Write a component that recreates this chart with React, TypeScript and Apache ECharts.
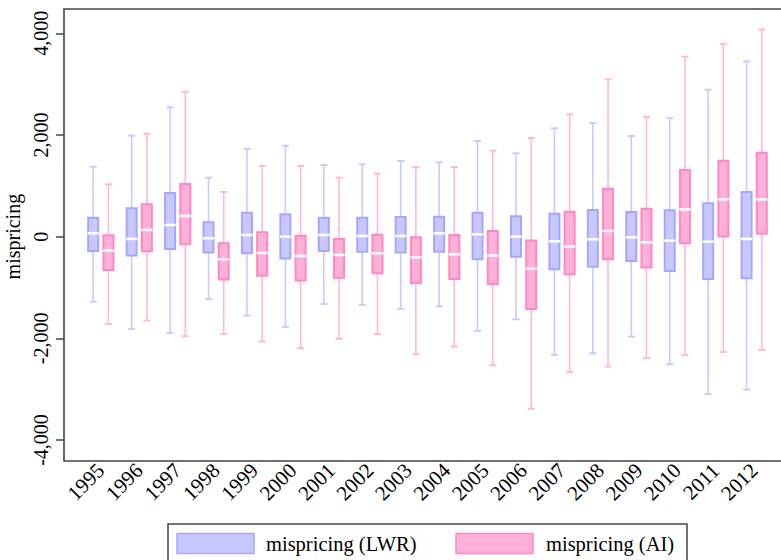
import React, { useEffect, useRef } from "react";
import * as echarts from "echarts";

const years = ["1995","1996","1997","1998","1999","2000","2001","2002","2003","2004","2005","2006","2007","2008","2009","2010","2011","2012"];

// [min, q1, median, q3, max]
const lwr: number[][] = [
  [-1278, -281, 67, 374, 1376],
  [-1815, -373, -45, 558, 1986],
  [-1893, -242, 230, 859, 2544],
  [-1225, -314, -31, 282, 1160],
  [-1553, -327, 33, 472, 1724],
  [-1775, -432, 0, 440, 1789],
  [-1323, -281, 33, 374, 1410],
  [-1343, -295, 14, 374, 1423],
  [-1422, -314, 14, 387, 1488],
  [-1369, -295, 66, 393, 1462],
  [-1854, -445, 46, 472, 1881],
  [-1625, -393, 0, 400, 1639],
  [-2326, -642, -91, 452, 2130],
  [-2293, -590, -52, 525, 2235],
  [-1966, -478, -13, 486, 1980],
  [-2510, -675, -78, 518, 2333],
  [-3099, -832, -98, 656, 2890],
  [-3008, -819, -45, 879, 3448],
];

const ai: number[][] = [
  [-1716, -655, -275, 27, 1030],
  [-1651, -288, 132, 637, 2025],
  [-1958, -150, 407, 1036, 2851],
  [-1913, -845, -445, -130, 879],
  [-2064, -767, -320, 86, 1390],
  [-2195, -865, -380, 20, 1390],
  [-2011, -806, -360, -45, 1160],
  [-1919, -720, -327, 39, 1239],
  [-2313, -911, -406, -13, 1370],
  [-2163, -832, -347, 33, 1370],
  [-2529, -930, -373, 112, 1691],
  [-3387, -1422, -629, -78, 1940],
  [-2667, -740, -196, 492, 2406],
  [-2556, -445, 112, 944, 3094],
  [-2392, -609, -112, 551, 2353],
  [-2332, -130, 538, 1311, 3539],
  [-2267, 5, 735, 1494, 3794],
  [-2228, 59, 735, 1652, 4077],
];

const yTicks = [-4000, -2000, 0, 2000, 4000];

const FONT = "Liberation Serif";

function makeRender(offset: number, fill: string, stroke: string, whisk: string) {
  return (params: any, api: any) => {
    const i = api.value(0);
    const vmin = api.value(1), q1 = api.value(2), med = api.value(3), q3 = api.value(4), vmax = api.value(5);
    const x = api.coord([i, med])[0] + offset;
    const yMin = api.coord([i, vmin])[1];
    const yQ1 = api.coord([i, q1])[1];
    const yMed = api.coord([i, med])[1];
    const yQ3 = api.coord([i, q3])[1];
    const yMax = api.coord([i, vmax])[1];
    const hw = 5;
    const cw = 3.5;
    const ws = { stroke: whisk, lineWidth: 1.6 };
    return {
      type: "group",
      children: [
        { type: "line", shape: { x1: x, y1: yQ3, x2: x, y2: yMax }, style: ws },
        { type: "line", shape: { x1: x, y1: yQ1, x2: x, y2: yMin }, style: ws },
        { type: "line", shape: { x1: x - cw, y1: yMax, x2: x + cw, y2: yMax }, style: { stroke: whisk, lineWidth: 2 } },
        { type: "line", shape: { x1: x - cw, y1: yMin, x2: x + cw, y2: yMin }, style: { stroke: whisk, lineWidth: 2 } },
        { type: "rect", shape: { x: x - hw, y: yQ3, width: hw * 2, height: yQ1 - yQ3 }, style: { fill, stroke, lineWidth: 2 } },
        { type: "line", shape: { x1: x - hw - 0.5, y1: yMed, x2: x + hw + 0.5, y2: yMed }, style: { stroke: "#ffffff", lineWidth: 2.6 } },
      ],
    };
  };
}

export default function App() {
  const ref = useRef<HTMLDivElement>(null);
  useEffect(() => {
    if (!ref.current) return;
    const chart = echarts.init(ref.current, undefined, { renderer: "svg" });
    const lwrData = lwr.map((d, i) => [i, ...d]);
    const aiData = ai.map((d, i) => [i, ...d]);
    chart.setOption({
      animation: false,
      backgroundColor: "#ffffff",
      grid: { left: 81.6, right: 7.6, top: 33.3, bottom: 120, containLabel: false, outerBoundsMode: "none" },
      xAxis: {
        type: "category",
        data: years,
        boundaryGap: true,
        offset: 21,
        axisLine: { show: false },
        axisTick: { show: false },
        axisLabel: { rotate: 45, margin: 6, fontSize: 21, color: "#000", fontFamily: FONT, interval: 0 },
        splitLine: { show: false },
      },
      yAxis: {
        type: "value",
        min: -4000,
        max: 4000,
        interval: 2000,
        offset: 17.6,
        name: "mispricing",
        nameLocation: "middle",
        nameGap: 39,
        nameTextStyle: { fontSize: 20, color: "#000", fontFamily: FONT },
        axisLine: { show: false },
        axisTick: { show: true, length: 8, lineStyle: { color: "#444", width: 1.5 } },
        axisLabel: {
          rotate: 90,
          margin: 13,
          fontSize: 20,
          color: "#000",
          fontFamily: FONT,
          formatter: (v: number) => (yTicks.includes(v) ? v.toLocaleString("en-US") : ""),
        },
        splitLine: { show: false },
      },
      graphic: [
        { type: "rect", z: -1, shape: { x: 64, y: 9, width: 730, height: 452 }, style: { fill: "none", stroke: "#444", lineWidth: 1.6 } },
        { type: "rect", shape: { x: 168, y: 524, width: 519, height: 60 }, style: { fill: "#fff", stroke: "#444", lineWidth: 1.5 } },
        { type: "rect", shape: { x: 177, y: 533.5, width: 77, height: 20 }, style: { fill: "#c8c8ff", stroke: "#a8a8ff", lineWidth: 1.5 } },
        { type: "text", x: 266, y: 544, style: { text: "mispricing (LWR)", fontSize: 20.5, fontFamily: FONT, fill: "#000", verticalAlign: "middle", align: "left" } },
        { type: "rect", shape: { x: 456, y: 533.5, width: 77, height: 20 }, style: { fill: "#ffb0d8", stroke: "#ff88c4", lineWidth: 1.5 } },
        { type: "text", x: 546, y: 544, style: { text: "mispricing (AI)", fontSize: 20.5, fontFamily: FONT, fill: "#000", verticalAlign: "middle", align: "left" } },
      ],
      series: [
        {
          name: "mispricing (LWR)",
          type: "custom",
          renderItem: makeRender(-7.6, "#c8c8ff", "#a6a6ff", "#cacaff"),
          encode: { x: 0, y: [1, 2, 3, 4, 5] },
          data: lwrData,
          clip: false,
        },
        {
          name: "mispricing (AI)",
          type: "custom",
          renderItem: makeRender(7.6, "#ffb0d8", "#ff88c4", "#ffb8da"),
          encode: { x: 0, y: [1, 2, 3, 4, 5] },
          data: aiData,
          clip: false,
        },
      ],
    });
    return () => chart.dispose();
  }, []);
  return <div ref={ref} style={{ position: "absolute", left: 0, top: 0, width: 781, height: 560 }} />;
}
